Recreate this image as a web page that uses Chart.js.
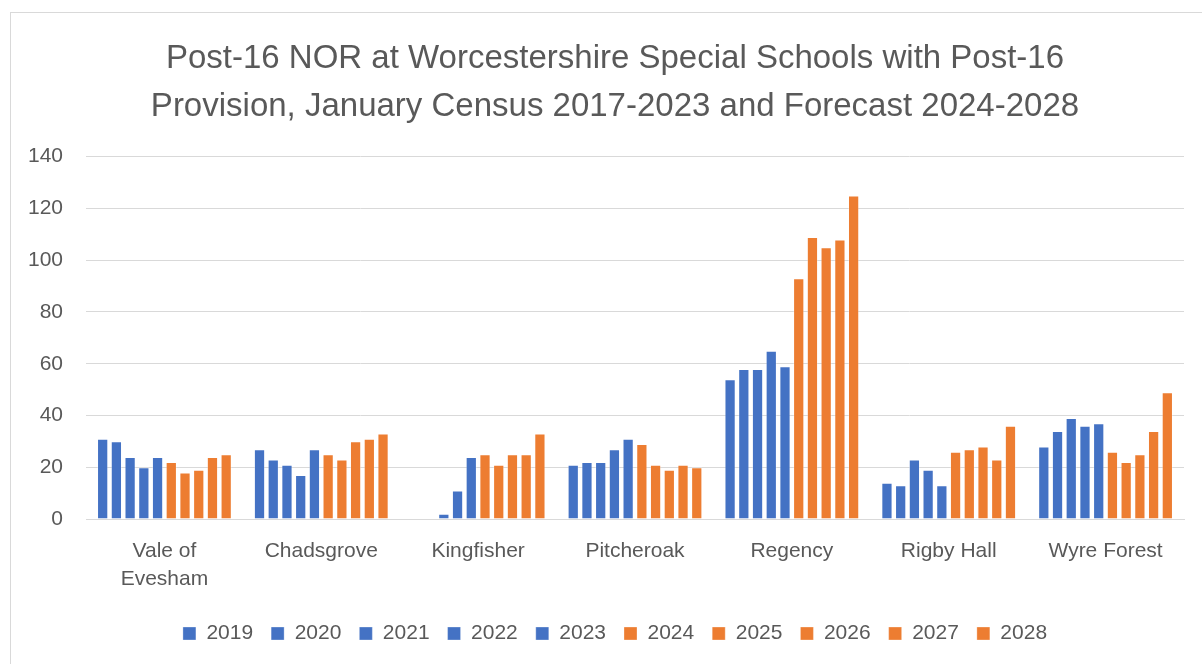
<!DOCTYPE html>
<html>
<head>
<meta charset="utf-8">
<script src="https://cdn.jsdelivr.net/npm/chart.js@4/dist/chart.umd.min.js"></script>
<style>
  html, body { margin: 0; padding: 0; background: #ffffff; width: 1202px; height: 664px; overflow: hidden; }
  #frame { position: absolute; left: 10px; top: 12px; width: 1200px; height: 700px; border: 1px solid #d9d9d9; box-sizing: border-box; }
  #c { position: absolute; left: 0; top: 0; }
</style>
</head>
<body>
<div id="frame"></div>
<canvas id="c" width="1202" height="664"></canvas>
<script>
const titleLines = [
  "Post-16 NOR at Worcestershire Special Schools with Post-16",
  "Provision, January Census 2017-2023 and Forecast 2024-2028"
];
const schools = [["Vale of", "Evesham"], "Chadsgrove", "Kingfisher", "Pitcheroak", "Regency", "Rigby Hall", "Wyre Forest"];
const years = ["2019", "2020", "2021", "2022", "2023", "2024", "2025", "2026", "2027", "2028"];
const yTicks = [0, 20, 40, 60, 80, 100, 120, 140];

// values per year, in school order
const y2019 = [31, 27, null, 21, 54, 14, 28];
const y2020 = [30, 23, null, 22, 58, 13, 34];
const y2021 = [24, 21, 2, 22, 58, 23, 39];
const y2022 = [20, 17, 11, 27, 65, 19, 36];
const y2023 = [24, 27, 24, 31, 59, 13, 37];
const y2024 = [22, 25, 25, 29, 93, 26, 26];
const y2025 = [18, 23, 21, 21, 109, 27, 22];
const y2026 = [19, 30, 25, 19, 105, 28, 25];
const y2027 = [24, 31, 25, 21, 108, 23, 34];
const y2028 = [25, 33, 33, 20, 125, 36, 49];

const seriesValues = [y2019, y2020, y2021, y2022, y2023, y2024, y2025, y2026, y2027, y2028];
const censusColor = "#4472C4";
const forecastColor = "#ED7D31";

const datasets = years.map((yr, i) => ({
  label: yr,
  data: seriesValues[i],
  backgroundColor: i < 5 ? censusColor : forecastColor,
  borderColor: "rgba(255,255,255,0.3)",
  borderWidth: 1,
  categoryPercentage: 0.875,
  barPercentage: 0.82
}));

const FONT = "'Liberation Sans', Arial, sans-serif";
const TXT = "#595959";

new Chart(document.getElementById("c"), {
  type: "bar",
  data: { labels: schools, datasets },
  options: {
    responsive: false,
    animation: false,
    devicePixelRatio: 1,
    layout: { padding: { top: 24, left: 28, right: 0, bottom: 10 } },
    plugins: {
      title: {
        display: true,
        text: titleLines,
        color: TXT,
        font: { family: FONT, size: 33, weight: "normal", lineHeight: 1.45 },
        padding: { top: 11, bottom: 26 }
      },
      legend: {
        position: "bottom",
        labels: {
          color: TXT,
          font: { family: FONT, size: 21 },
          boxWidth: 13,
          boxHeight: 13,
          padding: 18
        }
      },
      tooltip: { enabled: false }
    },
    scales: {
      x: {
        grid: { display: false, drawTicks: false },
        border: { display: true, color: "#d9d9d9", width: 1 },
        ticks: {
          color: TXT,
          font: { family: FONT, size: 21, lineHeight: 1.33 },
          padding: 18,
          maxRotation: 0,
          autoSkip: false
        },
        afterFit: (s) => { s.height = 86; }
      },
      y: {
        min: 0,
        max: 140,
        afterBuildTicks: (s) => { s.ticks = yTicks.map(v => ({ value: v })); },
        grid: { color: "#d9d9d9", lineWidth: 1, drawTicks: false },
        border: { display: false },
        ticks: {
          color: TXT,
          font: { family: FONT, size: 21 },
          padding: 23
        },
        afterFit: (s) => { s.width = 58; }
      },
      yRight: {
        position: "right",
        min: 0,
        max: 140,
        grid: { display: false, drawTicks: false },
        border: { display: false },
        ticks: { display: false },
        afterFit: (s) => { s.width = 18; }
      }
    }
  }
});
</script>
</body>
</html>
